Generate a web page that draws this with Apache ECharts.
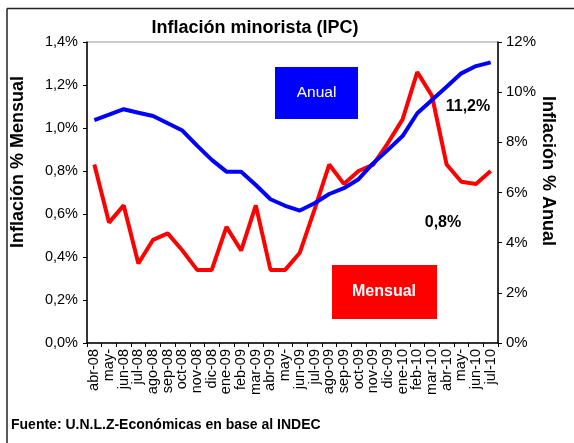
<!DOCTYPE html>
<html>
<head>
<meta charset="utf-8">
<script src="https://cdn.jsdelivr.net/npm/echarts@6/dist/echarts.min.js"></script>
<style>
html,body{margin:0;padding:0;background:#fff;}
#c{width:574px;height:443px;}
</style>
</head>
<body>
<div id="c"></div>
<script>
var categories = ["abr-08","may-","jun-08","jul-08","ago-08","sep-08","oct-08","nov-08","dic-08","ene-09","feb-09","mar-09","abr-09","may-","jun-09","jul-09","ago-09","sep-09","oct-09","nov-09","dic-09","ene-10","feb-10","mar-10","abr-10","may-","jun-10","jul-10"];
var mensual = [0.83,0.56,0.64,0.37,0.48,0.51,0.43,0.34,0.34,0.54,0.43,0.64,0.34,0.34,0.42,0.62,0.83,0.74,0.80,0.83,0.93,1.04,1.26,1.15,0.83,0.75,0.74,0.80];
var anual = [8.89,9.10,9.32,9.18,9.05,8.76,8.47,7.87,7.30,6.83,6.83,6.30,5.73,5.47,5.28,5.57,5.94,6.17,6.53,7.17,7.70,8.25,9.16,9.69,10.22,10.75,11.04,11.19];
var leftTicks = {min:0, max:1.4, interval:0.2};
var rightTicks = {min:0, max:12, interval:2};

var FONT = "'Liberation Sans', Arial, sans-serif";
var chart = echarts.init(document.getElementById('c'), null, {renderer:'canvas'});
chart.setOption({
  animation:false,
  backgroundColor:'#fff',
  grid:{left:87,right:76,top:42,bottom:100,show:true,borderColor:'#999',borderWidth:1},
  xAxis:{
    type:'category',data:categories,boundaryGap:true,
    axisLine:{lineStyle:{color:'#000',width:1.5}},
    axisTick:{show:true,alignWithLabel:false,interval:0,length:4,lineStyle:{color:'#000'}},
    axisLabel:{interval:0,rotate:90,fontSize:14.5,color:'#000',fontFamily:FONT,margin:6}
  },
  yAxis:[
    {type:'value',min:leftTicks.min,max:leftTicks.max,interval:leftTicks.interval,position:'left',
     axisLine:{show:true,lineStyle:{color:'#000',width:1.5}},
     axisTick:{show:true,length:4,lineStyle:{color:'#000'}},
     splitLine:{show:false},
     axisLabel:{fontSize:14.5,color:'#000',fontFamily:FONT,margin:9,
       formatter:function(v){return v.toFixed(1).replace('.',',')+'%';}}},
    {type:'value',min:rightTicks.min,max:rightTicks.max,interval:rightTicks.interval,position:'right',
     axisLine:{show:true,lineStyle:{color:'#000',width:1.5}},
     axisTick:{show:true,length:4,lineStyle:{color:'#000'}},
     splitLine:{show:false},
     axisLabel:{fontSize:15,color:'#000',fontFamily:FONT,margin:8,
       formatter:function(v){return v+'%';}}}
  ],
  series:[
    {name:'Mensual',type:'line',yAxisIndex:0,data:mensual,symbol:'none',
     lineStyle:{color:'#ff0000',width:4},itemStyle:{color:'#ff0000'}},
    {name:'Anual',type:'line',yAxisIndex:1,data:anual,symbol:'none',
     lineStyle:{color:'#0000ff',width:4},itemStyle:{color:'#0000ff'}}
  ],
  graphic:[
    {type:'line',shape:{x1:7,y1:8.5,x2:574,y2:8.5},style:{stroke:'#222',lineWidth:1.5}},
    {type:'line',shape:{x1:7,y1:8.5,x2:7,y2:443},style:{stroke:'#222',lineWidth:1.5}},
    {type:'text',style:{text:'Inflación minorista (IPC)',font:'bold 18px '+FONT,fill:'#000',textAlign:'center',textVerticalAlign:'middle'},x:255,y:28},
    {type:'text',style:{text:'Inflación % Mensual',font:'bold 18px '+FONT,fill:'#000',textAlign:'center',textVerticalAlign:'middle'},x:18,y:162,rotation:Math.PI/2},
    {type:'text',style:{text:'Inflación % Anual',font:'bold 18px '+FONT,fill:'#000',textAlign:'center',textVerticalAlign:'middle'},x:548,y:171,rotation:-Math.PI/2},
    {type:'rect',shape:{x:275,y:67,width:83,height:52},style:{fill:'#0000ff'}},
    {type:'text',style:{text:'Anual',font:'15.5px '+FONT,fill:'#fff',textAlign:'center',textVerticalAlign:'middle'},x:316.5,y:93},
    {type:'rect',shape:{x:332,y:265,width:105,height:54},style:{fill:'#ff0000'}},
    {type:'text',style:{text:'Mensual',font:'bold 16px '+FONT,fill:'#fff',textAlign:'center',textVerticalAlign:'middle'},x:384,y:292},
    {type:'text',style:{text:'11,2%',font:'bold 16px '+FONT,fill:'#000',textAlign:'center',textVerticalAlign:'middle'},x:468,y:107},
    {type:'text',style:{text:'0,8%',font:'bold 16px '+FONT,fill:'#000',textAlign:'center',textVerticalAlign:'middle'},x:443,y:223},
    {type:'text',style:{text:'Fuente: U.N.L.Z-Económicas en base al INDEC',font:'bold 14px '+FONT,fill:'#000',textAlign:'left',textVerticalAlign:'middle'},x:11,y:425}
  ]
});
</script>
</body>
</html>
